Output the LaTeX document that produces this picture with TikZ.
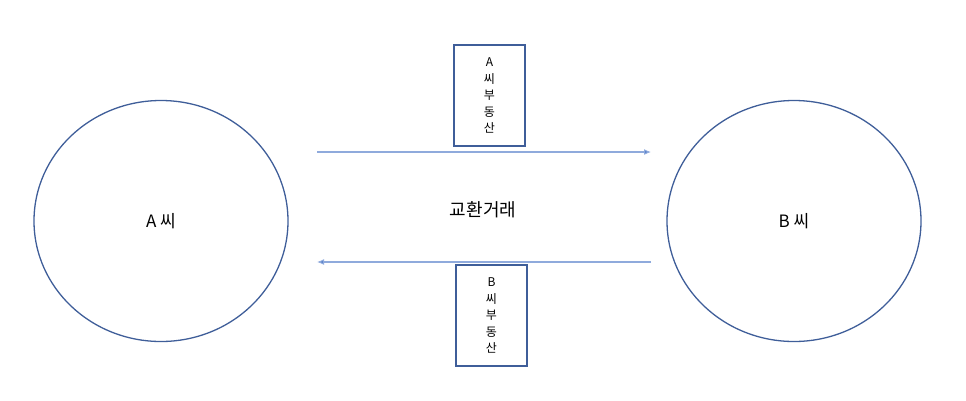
\documentclass[tikz,border=0pt]{standalone}
\usepackage{fontspec}
\newfontfamily\cjk{Noto Sans CJK KR}
\usetikzlibrary{shapes.geometric, arrows, arrows.meta}
\definecolor{ringblue}{HTML}{3F5E99}
\definecolor{lineblue}{HTML}{8FAADC}
\definecolor{tipblue}{HTML}{4472C4}
\tikzstyle{party} = [ellipse, 
minimum width=254pt, 
minimum height=241pt, 
draw=ringblue, 
line width=1.3pt, 
font=\cjk\fontsize{17}{20}\selectfont]
\tikzstyle{asset} = [rectangle, 
minimum width=71pt, 
minimum height=101pt, 
align=center, 
draw=ringblue, 
line width=1.3pt, 
font=\cjk\fontsize{12}{16.5}\selectfont]
\tikzstyle{arrow} = [lineblue, line width=1.1pt, -{Latex[length=7pt,width=6pt,fill=tipblue]}]

\begin{document}
\begin{tikzpicture}[x=1pt, y=-1pt]
		\useasboundingbox (0,0) rectangle (966,400);
		\node (pa) [party] at (161,221) {A 씨};
		\node (pb) [party] at (794,221) {B 씨};
		\node (boxa) [asset] at (489.5,95.5) {A\\씨\\부\\동\\산};
		\node (boxb) [asset] at (491.5,315.5) {B\\씨\\부\\동\\산};
		\node (deal) [font=\cjk\fontsize{18}{22}\selectfont] at (483,210) {교환거래};
	
		\coordinate (t1) at (317,152);
		\coordinate (t2) at (651,152);
		\coordinate (b1) at (651,262);
		\coordinate (b2) at (317,262);
		\draw [arrow] (t1) -- (t2);
		\draw [arrow] (b1) -- (b2);
	\end{tikzpicture}
\end{document}
